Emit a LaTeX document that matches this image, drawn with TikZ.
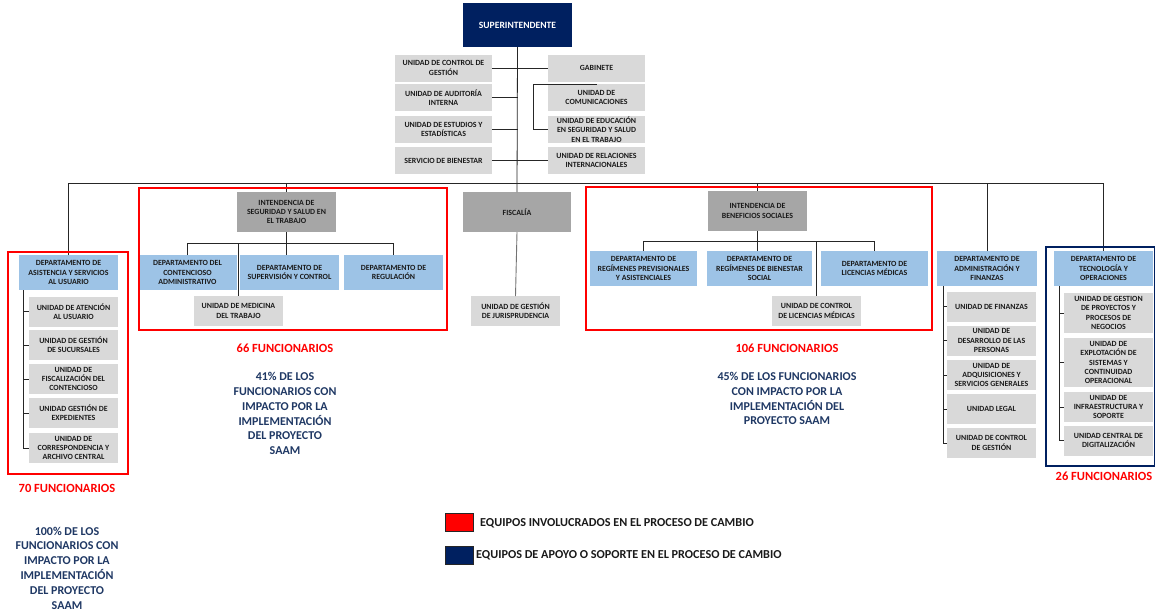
\documentclass[tikz,border=0pt]{standalone}
\usepackage{fontspec}
\setmainfont{Carlito}
\begin{document}
\definecolor{navy}{HTML}{002060}
\definecolor{txtnavy}{HTML}{1F3864}
\definecolor{lblue}{HTML}{9DC3E6}
\definecolor{lgray}{HTML}{D9D9D9}
\definecolor{mgray}{HTML}{A6A6A6}
\definecolor{txt}{HTML}{1A1A1A}
\definecolor{redline}{HTML}{FF0000}
\begin{tikzpicture}[x=1pt,y=-1pt,
  base/.style={font=\bfseries\fontsize{7.9}{9.4}\selectfont, align=center,
    inner sep=1pt, outer sep=0pt, text=txt},
  unit/.style={base, fill=lgray, minimum width=89pt, minimum height=30pt},
  staff/.style={base, fill=lgray, minimum width=97pt, minimum height=27pt},
  dept/.style={base, fill=lblue, minimum height=35pt},
  head/.style={base, fill=mgray, minimum width=99pt, minimum height=40pt},
  conn/.style={draw=black!85, line width=0.8pt},
  gconn/.style={draw=black!55, line width=0.9pt},
  redframe/.style={draw=redline, line width=1.7pt},
  navyframe/.style={draw=navy, line width=1.7pt},
  count/.style={font=\bfseries\fontsize{12.5}{14}\selectfont, text=redline},
  impact/.style={font=\bfseries\fontsize{12}{14.8}\selectfont, text=txtnavy, align=center},
  legtext/.style={font=\bfseries\fontsize{12.2}{14}\selectfont, text=txt, anchor=west, inner sep=0pt}
]
\useasboundingbox (0,0) rectangle (1156,611);
\fill[white] (0,0) rectangle (1156,611);

% ---------- top of the hierarchy ----------
\node[base, fill=navy, text=white, minimum width=109pt, minimum height=44pt,
  font=\bfseries\fontsize{9.6}{11}\selectfont] (sup) at (517.5,25) {SUPERINTENDENTE};

\node[staff] (s1) at (443.5,68)    {UNIDAD DE CONTROL DE\\GESTIÓN};
\node[staff] (s2) at (443.5,97.5)  {UNIDAD DE AUDITORÍA\\INTERNA};
\node[staff] (s3) at (443.5,129.5) {UNIDAD DE ESTUDIOS Y\\ESTADÍSTICAS};
\node[staff] (s4) at (443.5,160.5) {SERVICIO DE BIENESTAR};
\node[staff] (r1) at (596.5,68)    {GABINETE};
\node[staff] (r2) at (596.5,97.5)  {UNIDAD DE\\COMUNICACIONES};
\node[staff] (r3) at (596.5,129.5) {UNIDAD DE EDUCACIÓN\\EN SEGURIDAD Y SALUD\\EN EL TRABAJO};
\node[staff] (r4) at (596.5,160.5) {UNIDAD DE RELACIONES\\INTERNACIONALES};

% ---------- second level ----------
\node[head, minimum width=108pt] (fis) at (517,212) {FISCALÍA};
\node[unit] (jur) at (515.5,311) {UNIDAD DE GESTIÓN\\DE JURISPRUDENCIA};

\coordinate (bar) at (517,183);
\coordinate (cbr) at (533,84);

% Asistencia al usuario
\node[dept, minimum width=99pt] (asis) at (68.5,272.5) {DEPARTAMENTO DE\\ASISTENCIA Y SERVICIOS\\AL USUARIO};
\node[unit] (a1) at (73.5,311.5) {UNIDAD DE ATENCIÓN\\AL USUARIO};
\node[unit] (a2) at (73.5,345)   {UNIDAD DE GESTIÓN\\DE SUCURSALES};
\node[unit] (a3) at (73.5,379)   {UNIDAD DE\\FISCALIZACIÓN DEL\\CONTENCIOSO};
\node[unit] (a4) at (73.5,413)   {UNIDAD GESTIÓN DE\\EXPEDIENTES};
\node[unit] (a5) at (73.5,448)   {UNIDAD DE\\CORRESPONDENCIA Y\\ARCHIVO CENTRAL};
\coordinate (abr) at (23,290);

% Intendencia de seguridad y salud en el trabajo
\node[head] (ints) at (286.5,212) {INTENDENCIA DE\\SEGURIDAD Y SALUD EN\\EL TRABAJO};
\coordinate (sbar) at (286.5,243);
\node[dept, minimum width=99pt] (cont) at (187.5,272.5) {DEPARTAMENTO DEL\\CONTENCIOSO\\ADMINISTRATIVO};
\node[dept, minimum width=99pt] (supv) at (289.5,272.5) {DEPARTAMENTO DE\\SUPERVISIÓN Y CONTROL};
\node[dept, minimum width=99pt] (reg)  at (393.5,272.5) {DEPARTAMENTO DE\\REGULACIÓN};
\node[unit] (med) at (238.5,311) {UNIDAD DE MEDICINA\\DEL TRABAJO};

% Intendencia de beneficios sociales
\node[head] (intb) at (757.5,211) {INTENDENCIA DE\\BENEFICIOS SOCIALES};
\coordinate (bbar) at (757.5,241);
\node[dept, minimum width=107pt] (prev) at (643.5,268.5) {DEPARTAMENTO DE\\REGÍMENES PREVISIONALES\\Y ASISTENCIALES};
\node[dept, minimum width=105pt] (bien) at (759.5,268.5) {DEPARTAMENTO DE\\REGÍMENES DE BIENESTAR\\SOCIAL};
\node[dept, minimum width=107pt] (lic)  at (874.5,268.5) {DEPARTAMENTO DE\\LICENCIAS MÉDICAS};
\node[unit] (clic) at (816.5,311) {UNIDAD DE CONTROL\\DE LICENCIAS MÉDICAS};

% Administración y finanzas
\node[dept, minimum width=100pt] (adm) at (987,268.5) {DEPARTAMENTO DE\\ADMINISTRACIÓN Y\\FINANZAS};
\node[unit] (f1) at (991.5,306.5) {UNIDAD DE FINANZAS};
\node[unit] (f2) at (991.5,340.5) {UNIDAD DE\\DESARROLLO DE LAS\\PERSONAS};
\node[unit] (f3) at (991.5,375)   {UNIDAD DE\\ADQUISICIONES Y\\SERVICIOS GENERALES};
\node[unit] (f4) at (991.5,409)   {UNIDAD LEGAL};
\node[unit] (f5) at (991.5,443)   {UNIDAD DE CONTROL\\DE GESTIÓN};
\coordinate (fbr) at (943,286);

% Tecnología y operaciones
\node[dept, minimum width=99pt] (tec) at (1103.5,268.5) {DEPARTAMENTO DE\\TECNOLOGÍA Y\\OPERACIONES};
\node[unit, minimum height=40pt] (t1) at (1108.5,313)   {UNIDAD DE GESTION\\DE PROYECTOS Y\\PROCESOS DE\\NEGOCIOS};
\node[unit, minimum height=49pt, font=\bfseries\fontsize{7.9}{9.1}\selectfont] (t2) at (1108.5,362.5) {UNIDAD DE\\EXPLOTACIÓN DE\\SISTEMAS Y\\CONTINUIDAD\\OPERACIONAL};
\node[unit] (t3) at (1108.5,407)   {UNIDAD DE\\INFRAESTRUCTURA Y\\SOPORTE};
\node[unit] (t4) at (1108.5,440.5) {UNIDAD CENTRAL DE\\DIGITALIZACIÓN};
\coordinate (tbr) at (1059,286);

% ---------- connectors ----------
\draw[conn] (sup.south) -- (fis.north);
\draw[conn] (s1.east) -- (r1.west);
\draw[conn] (s2.east) -- (s2.east -| sup.south);
\draw[conn] (s3.east) -- (s3.east -| sup.south);
\draw[conn] (s4.east) -- (r4.west);
\draw[conn] (r2.north) -- (cbr) |- (r3.west);

\draw[conn] (asis.north) -- (asis.north |- bar) -- (tec.north |- bar) -- (tec.north);
\draw[conn] (ints.north |- bar) -- (ints.north);
\draw[conn] (intb.north |- bar) -- (intb.north);
\draw[conn] (adm.north |- bar) -- (adm.north);

\draw[conn] (abr) |- (a5.west);
\foreach \u in {a1,a2,a3,a4} \draw[conn] (abr |- \u.west) -- (\u.west);

\draw[conn] (ints.south) -- (ints.south |- supv.north);
\draw[conn] (cont.north) -- (cont.north |- sbar) -- (reg.north |- sbar) -- (reg.north);
\draw[conn] (med.north |- sbar) -- (med.north);

\draw[conn] (intb.south) -- (intb.south |- bien.north);
\draw[conn] (prev.north) -- (prev.north |- bbar) -- (lic.north |- bbar) -- (lic.north);
\draw[conn] (clic.north |- bbar) -- (clic.north);

\draw[conn] (fbr) |- (f5.west);
\foreach \u in {f1,f2,f3,f4} \draw[conn] (fbr |- \u.west) -- (\u.west);

\draw[conn] (tbr) |- (t4.west);
\foreach \u in {t1,t2,t3} \draw[conn] (tbr |- \u.west) -- (\u.west);

\draw[gconn] (fis.south) -- (jur.north);

% ---------- team frames ----------
\draw[redframe] (8,252) rectangle (128,474);
\draw[redframe] (139,188) rectangle (447,330);
\draw[redframe] (586,187) rectangle (932,330);
\draw[navyframe] (1046,247) rectangle (1154.5,466);

% ---------- staff counts and impact ----------
\node[count] (n66) at (285,348) {66 FUNCIONARIOS};
\node[impact] (p41) at (285,413.5) {41\% DE LOS\\FUNCIONARIOS CON\\IMPACTO POR LA\\IMPLEMENTACIÓN\\DEL PROYECTO\\SAAM};
\node[count] (n106) at (787,348) {106 FUNCIONARIOS};
\node[impact] (p45) at (787,398.5) {45\% DE LOS FUNCIONARIOS\\CON IMPACTO POR LA\\IMPLEMENTACIÓN DEL\\PROYECTO SAAM};
\node[count] (n70) at (67,488) {70 FUNCIONARIOS};
\node[impact] (p100) at (67,568) {100\% DE LOS\\FUNCIONARIOS CON\\IMPACTO POR LA\\IMPLEMENTACIÓN\\DEL PROYECTO\\SAAM};
\node[count] (n26) at (1104,476) {26 FUNCIONARIOS};

% ---------- legend ----------
\node[draw=black!85, line width=1pt, fill=redline, minimum width=28pt, minimum height=18pt, inner sep=0pt] (kr) at (459.5,522.5) {};
\node[draw=black!85, line width=1pt, fill=navy, minimum width=28pt, minimum height=18pt, inner sep=0pt] (kb) at (459.5,555) {};
\node[legtext] (lr) at (480,523) {EQUIPOS INVOLUCRADOS EN EL PROCESO DE CAMBIO};
\node[legtext] (lb) at (476,555) {EQUIPOS DE APOYO O SOPORTE EN EL PROCESO DE CAMBIO};
\end{tikzpicture}
\end{document}
